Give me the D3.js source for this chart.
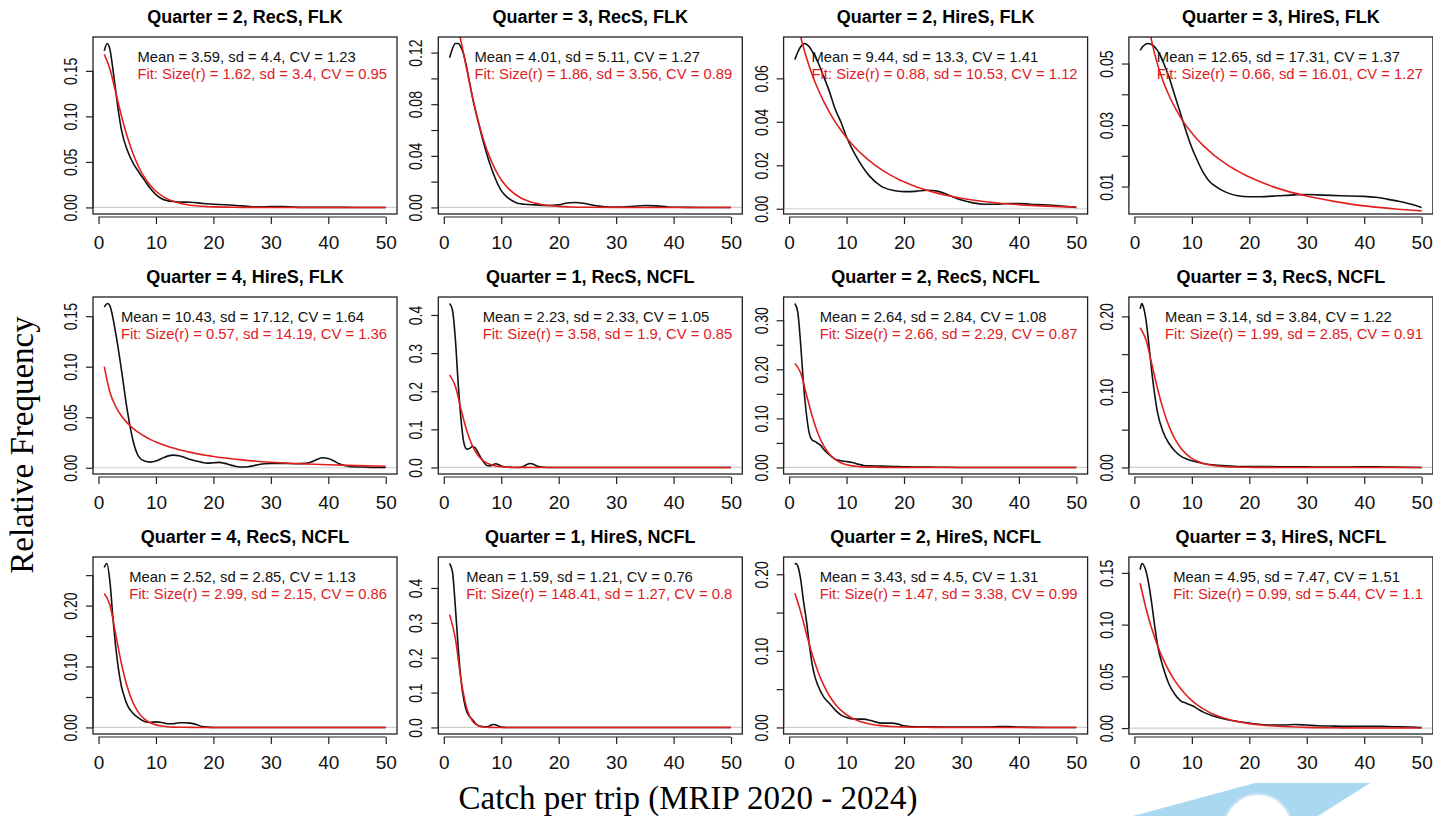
<!DOCTYPE html>
<html>
<head>
<meta charset="utf-8">
<script src="https://cdn.jsdelivr.net/npm/d3@7"></script>
<style>
body { margin: 0; background: #fff; }
svg { display: block; font-family: Arial, "Liberation Sans", sans-serif; }
</style>
</head>
<body>
<div id="chart"></div>
<script>
// panel titles, in reading order (3 rows x 4 columns)
var titles = ["Quarter = 2, RecS, FLK", "Quarter = 3, RecS, FLK", "Quarter = 2, HireS, FLK", "Quarter = 3, HireS, FLK",
  "Quarter = 4, HireS, FLK", "Quarter = 1, RecS, NCFL", "Quarter = 2, RecS, NCFL", "Quarter = 3, RecS, NCFL",
  "Quarter = 4, RecS, NCFL", "Quarter = 1, HireS, NCFL", "Quarter = 2, HireS, NCFL", "Quarter = 3, HireS, NCFL"];

// observed stats
var means = [3.59, 4.01, 9.44, 12.65, 10.43, 2.23, 2.64, 3.14, 2.52, 1.59, 3.43, 4.95];
var sds = [4.4, 5.11, 13.3, 17.31, 17.12, 2.33, 2.84, 3.84, 2.85, 1.21, 4.5, 7.47];
var cvs = [1.23, 1.27, 1.41, 1.37, 1.64, 1.05, 1.08, 1.22, 1.13, 0.76, 1.31, 1.51];
// negative binomial fit stats
var fitSize = [1.62, 1.86, 0.88, 0.66, 0.57, 3.58, 2.66, 1.99, 2.99, 148.41, 1.47, 0.99];
var fitSd = [3.4, 3.56, 10.53, 16.01, 14.19, 1.9, 2.29, 2.85, 2.15, 1.27, 3.38, 5.44];
var fitCv = [0.95, 0.89, 1.12, 1.27, 1.36, 0.85, 0.87, 0.91, 0.86, 0.8, 0.99, 1.1];

// y axis ticks and labels per panel ("" = tick without label)
var yTicks = [
  [0, 0.05, 0.10, 0.15], [0, 0.02, 0.04, 0.06, 0.08, 0.10, 0.12], [0, 0.02, 0.04, 0.06], [0.01, 0.02, 0.03, 0.04, 0.05],
  [0, 0.05, 0.10, 0.15], [0, 0.1, 0.2, 0.3, 0.4], [0, 0.05, 0.10, 0.15, 0.20, 0.25, 0.30], [0, 0.05, 0.10, 0.15, 0.20],
  [0, 0.05, 0.10, 0.15, 0.20, 0.25], [0, 0.1, 0.2, 0.3, 0.4], [0, 0.05, 0.10, 0.15, 0.20], [0, 0.05, 0.10, 0.15]];
var yLabels = [
  ["0.00", "0.05", "0.10", "0.15"], ["0.00", "", "0.04", "", "0.08", "", "0.12"], ["0.00", "0.02", "0.04", "0.06"], ["0.01", "", "0.03", "", "0.05"],
  ["0.00", "0.05", "0.10", "0.15"], ["0.0", "0.1", "0.2", "0.3", "0.4"], ["0.00", "", "0.10", "", "0.20", "", "0.30"], ["0.00", "", "0.10", "", "0.20"],
  ["0.00", "", "0.10", "", "0.20", ""], ["0.0", "0.1", "0.2", "0.3", "0.4"], ["0.00", "", "0.10", "", "0.20"], ["0.00", "0.05", "0.10", "0.15"]];
var xTicks = [0, 10, 20, 30, 40, 50];

// observed density (black), [catch, relative frequency]
var dens1 = [[1,.172],[1.5,.180],[2,.173],[2.5,.152],[3,.128],[3.5,.104],[4,.085],[5,.063],[6,.049],[7,.039],[8,.030],[9,.021],[10,.014],[11,.0095],[12,.0075],[13,.0065],[14,.006],[16,.0057],[18,.0045],[20,.0035],[22,.003],[24,.0022],[26,.0012],[28,.0006],[30,.0009],[32,.0009],[34,.0003],[36,.0001],[40,.0001],[45,0],[50,0]];
var dens2 = [[1,.116],[1.5,.123],[2,.127],[2.5,.127],[3,.124],[3.5,.118],[4,.108],[5,.085],[6,.066],[7,.049],[8,.034],[9,.022],[10,.013],[11,.008],[12,.005],[13,.003],[14,.0025],[16,.002],[18,.0015],[20,.002],[21,.003],[22,.0036],[23,.0038],[24,.0034],[25,.0027],[27,.001],[29,.0003],[31,.0003],[33,.0008],[35,.0015],[37,.0012],[39,.0004],[41,.0001],[45,0],[50,0]];
var dens3 = [[1,.0687],[1.5,.072],[2,.0745],[2.7,.076],[3.5,.0745],[4,.0725],[5,.0675],[6,.061],[7,.054],[8,.046],[9,.040],[10,.033],[12,.0226],[14,.015],[16,.0104],[18,.0085],[20,.0079],[22,.008],[24,.0085],[26,.008],[28,.006],[30,.004],[32,.0027],[34,.0021],[36,.0021],[38,.0024],[40,.0024],[42,.0021],[45,.0017],[48,.0011],[50,.0006]];
var dens4 = [[1,.0543],[1.5,.0556],[2.3,.0565],[3,.0562],[4,.0543],[5,.0505],[6,.0457],[7,.0398],[8,.0339],[9,.028],[10,.0226],[11,.0183],[12,.0145],[13,.0118],[14,.0102],[16,.0081],[18,.0070],[20,.0067],[22,.0067],[25,.0070],[28,.0073],[30,.0074],[33,.0072],[36,.0070],[40,.0068],[42,.0065],[44,.0059],[46,.0052],[48,.0043],[50,.0032]];
var dens5 = [[1,.159],[1.6,.1625],[2,.160],[3,.133],[4,.0966],[5,.057],[6,.027],[7,.011],[8,.0066],[9,.0056],[10,.0066],[11,.0092],[12,.0115],[13,.0125],[14,.0119],[15,.0102],[16,.0082],[17,.0066],[18,.0053],[19,.0046],[20,.0049],[21,.0053],[22,.0043],[23,.0026],[24,.0013],[25,.0007],[26,.001],[27,.002],[28,.0033],[29,.004],[30,.0043],[32,.0043],[34,.004],[36,.0043],[37,.0056],[38,.0082],[39,.0099],[40,.0092],[41,.0066],[42,.0036],[43,.002],[44,.001],[46,.0007],[48,.0003],[50,.0003]];
var dens6 = [[1,.43],[1.5,.413],[2,.339],[2.5,.221],[3,.125],[3.5,.064],[4,.048],[4.5,.05],[5,.055],[5.5,.051],[6,.0376],[6.5,.0245],[7,.013],[7.5,.0052],[8,.0044],[8.5,.006],[9,.0096],[9.5,.008],[10,.0035],[11,.001],[12,0],[13,0],[13.5,.0005],[14,.0035],[14.5,.008],[15,.0105],[15.5,.009],[16,.0052],[17,.001],[18,0],[50,0]];
var dens7 = [[1,.334],[1.5,.317],[2,.2525],[2.5,.171],[3,.110],[3.5,.070],[4,.056],[4.5,.053],[5,.049],[5.5,.045],[6,.037],[7,.026],[8,.017],[9,.0135],[10,.012],[11,.010],[12,.0068],[13,.004],[14,.0034],[16,.0027],[18,.002],[20,.0014],[22,.0007],[24,.0007],[26,.0005],[30,0],[50,0]];
var dens8 = [[1,.21],[1.3,.217],[1.5,.214],[2,.196],[2.5,.164],[3,.1285],[3.5,.098],[4,.0737],[5,.047],[6,.032],[7,.022],[8,.0154],[9,.0114],[10,.0088],[11,.007],[12,.0053],[13,.004],[14,.0031],[16,.0022],[18,.0013],[20,.0013],[22,.0013],[25,.0009],[28,.0009],[30,.0009],[32,.0004],[35,.0004],[40,.0009],[42,.0009],[45,.0004],[50,0]];
var dens9 = [[1,.2625],[1.45,.269],[2,.238],[2.5,.181],[3,.132],[3.5,.094],[4,.0668],[4.5,.0505],[5,.037],[6,.0234],[7,.0152],[8,.0098],[9,.0082],[10,.0092],[11,.0082],[12,.006],[13,.006],[14,.0076],[15,.0076],[16,.0071],[17,.0049],[18,.0016],[19,.0005],[20,0],[50,0]];
var dens10 = [[1,.47],[1.5,.447],[2,.348],[2.5,.23],[3,.135],[3.5,.078],[4,.045],[4.5,.031],[5,.022],[5.5,.012],[6,.0057],[6.5,.003],[7,.002],[7.5,.002],[8,.0047],[8.5,.0085],[9,.0076],[9.5,.0038],[10,.001],[11,0],[50,0]];
var dens11 = [[1,.213],[1.2,.214],[1.5,.211],[2,.194],[2.5,.165],[3,.140],[3.5,.109],[4,.083],[4.5,.066],[5,.055],[6,.040],[7,.0315],[8,.023],[9,.0164],[10,.013],[11,.0112],[12,.0108],[13,.0108],[14,.0095],[15,.0073],[16,.0056],[17,.0056],[18,.0056],[19,.0043],[20,.0022],[22,.0009],[25,.0009],[28,.0004],[30,.0004],[34,.0004],[36,.0008],[37,.0013],[38,.0013],[40,.0004],[45,0],[50,0]];
var dens12 = [[1,.153],[1.3,.159],[2,.152],[2.5,.139],[3,.121],[3.5,.100],[4,.081],[5,.0587],[6,.0426],[7,.033],[8,.0266],[9,.024],[10,.0218],[11,.0186],[12,.0154],[13,.0131],[14,.0112],[16,.0083],[18,.0064],[20,.0048],[22,.0035],[24,.0029],[26,.0029],[28,.0035],[30,.0029],[32,.0022],[35,.0019],[38,.0016],[40,.0016],[43,.0016],[45,.0013],[48,.001],[50,.0006]];
var densities = [dens1, dens2, dens3, dens4, dens5, dens6, dens7, dens8, dens9, dens10, dens11, dens12];

// fitted curve (red), read at these catch values
var fitX = [1,2,3,4,5,6,7,8,9,10,11,12,13,14,15,16,17,18,19,20,22,25,30,35,40,45,50];
var fit1 = [.1682,.1518,.1262,.1005,.0778,.0592,.0444,.0330,.0243,.0178,.0130,.0094,.0068,.0049,.0035,.0025,.0018,.0013,.0009,.0006,.0003,.0001,0,0,0,0,0];
var fit2 = [.1499,.1464,.1287,.1068,.0855,.0668,.0512,.0388,.0290,.0215,.0159,.0116,.0085,.0061,.0044,.0032,.0023,.0016,.0012,.0008,.0004,.00015,.00003,0,0,0,0];
var fit3 = [.0923,.0793,.0697,.0618,.0552,.0495,.0445,.0401,.0362,.0327,.0296,.0268,.0243,.0220,.0200,.0181,.0165,.0150,.0136,.0124,.0102,.0077,.0048,.0030,.0019,.0012,.00077];
var fit4 = [.0864,.0681,.0574,.0499,.0442,.0397,.0359,.0326,.0298,.0274,.0252,.0233,.0216,.0200,.0186,.0173,.0161,.0150,.0140,.0131,.0115,.0094,.0069,.0051,.0037,.0028,.0021];
var fit5 = [.1000,.0744,.0605,.0512,.0444,.0390,.0347,.0312,.0281,.0255,.0233,.0213,.0195,.0179,.0165,.0152,.0141,.0130,.0121,.0112,.0097,.0078,.0055,.0040,.0029,.0021,.0015];
var fit6 = [.2428,.2134,.1523,.0962,.0560,.0307,.0161,.0082,.0040,.0020,.0009,.0004,.0002,.0001,0,0,0,0,0,0,0,0,0,0,0,0,0];
var fit7 = [.2117,.1930,.1493,.1053,.0698,.0444,.0274,.0165,.0097,.0056,.0032,.0018,.0010,.0006,.0003,.0002,.0001,0,0,0,0,0,0,0,0,0,0];
var fit8 = [.1850,.1693,.1378,.1052,.0772,.0550,.0384,.0264,.0180,.0121,.0081,.0053,.0035,.0023,.0015,.0010,.0006,.0004,.0003,.0002,.0001,0,0,0,0,0,0];
var fit9 = [.2198,.2006,.1526,.1045,.0668,.0407,.0239,.0137,.0076,.0042,.0023,.0012,.0006,.0003,.0002,.0001,0,0,0,0,0,0,0,0,0,0,0];
var fit10 = [.3235,.2562,.1361,.0546,.0177,.0048,.0011,.0002,0,0,0,0,0,0,0,0,0,0,0,0,0,0,0,0,0,0,0];
var fit11 = [.1753,.1515,.1227,.0960,.0735,.0555,.0414,.0307,.0226,.0166,.0121,.0088,.0064,.0046,.0033,.0024,.0017,.0012,.0009,.0006,.0003,.0001,0,0,0,0,0];
var fit12 = [.1400,.1161,.0964,.0801,.0666,.0554,.0461,.0384,.0320,.0266,.0222,.0185,.0154,.0128,.0107,.0089,.0074,.0062,.0051,.0043,.0030,.0017,.0007,.0003,.0001,0,0];
var fits = [fit1, fit2, fit3, fit4, fit5, fit6, fit7, fit8, fit9, fit10, fit11, fit12];

// layout
var W = 1433, H = 816;
var left0 = 93, top0 = 37, colStep = 345.3, rowStep = 260;
var boxW = 304, boxH = 177;

var svg = d3.select("#chart")
  .append("svg")
  .attr("width", W)
  .attr("height", H);

// logo band in the bottom right corner
svg.append("path")
  .attr("d", "M1133,816 L1255,783 L1370,783 L1318,816 Z")
  .attr("fill", "#a9d8f0");
svg.append("circle")
  .attr("cx", 1258).attr("cy", 828).attr("r", 34)
  .attr("fill", "#fff").attr("stroke", "#c9e3f2").attr("stroke-width", 2);

var x = d3.scaleLinear()
  .domain([1 - 0.04 * 49, 50 + 0.04 * 49])
  .range([0, boxW]);

titles.forEach(function(title, i) {
  var col = i % 4, row = Math.floor(i / 4);
  var g = svg.append("g")
    .attr("transform", "translate(" + (left0 + col * colStep) + "," + (top0 + row * rowStep) + ")");

  var dens = densities[i];
  var ext = d3.extent(dens, function(d) { return d[1]; });
  var pad = 0.04 * (ext[1] - ext[0]);
  var y = d3.scaleLinear()
    .domain([ext[0] - pad, ext[1] + pad])
    .range([boxH, 0]);

  g.append("clipPath").attr("id", "clip" + i)
    .append("rect").attr("width", boxW).attr("height", boxH);

  // grey zero line
  if (y.domain()[0] < 0) {
    g.append("line")
      .attr("x1", 0).attr("x2", boxW)
      .attr("y1", y(0)).attr("y2", y(0))
      .attr("stroke", "#cfcfcf").attr("stroke-width", 1.2);
  }

  var line = d3.line()
    .x(function(d) { return x(d[0]); })
    .y(function(d) { return y(d[1]); })
    .curve(d3.curveMonotoneX);

  g.append("path")
    .datum(dens)
    .attr("clip-path", "url(#clip" + i + ")")
    .attr("fill", "none")
    .attr("stroke", "#111")
    .attr("stroke-width", 1.6)
    .attr("d", line);

  g.append("path")
    .datum(fitX.map(function(v, j) { return [v, fits[i][j]]; }))
    .attr("clip-path", "url(#clip" + i + ")")
    .attr("fill", "none")
    .attr("stroke", "#e0201f")
    .attr("stroke-width", 1.6)
    .attr("d", line);

  // box
  g.append("rect")
    .attr("width", boxW).attr("height", boxH)
    .attr("fill", "none").attr("stroke", "#222").attr("stroke-width", 1.3);

  // x axis
  var xa = g.append("g")
    .attr("transform", "translate(0," + (boxH + 3) + ")")
    .call(d3.axisBottom(x).tickValues(xTicks).tickSize(7).tickSizeOuter(0));
  xa.select(".domain").remove();
  xa.append("line")
    .attr("x1", x(xTicks[0])).attr("x2", x(xTicks[xTicks.length - 1]))
    .attr("stroke", "#222").attr("stroke-width", 1.2);
  xa.selectAll(".tick line").attr("stroke", "#222").attr("stroke-width", 1.2);
  xa.selectAll("text")
    .attr("y", 32).attr("dy", 0)
    .style("font-size", "19px").style("fill", "#111");

  // y axis (labels parallel to the axis, slightly wide like the source image)
  var yt = yTicks[i], yl = yLabels[i];
  var ya = g.append("g")
    .call(d3.axisLeft(y).tickValues(yt).tickSize(7).tickSizeOuter(0)
      .tickFormat(function(d, j) { return yl[j]; }));
  ya.select(".domain").remove();
  ya.append("line")
    .attr("y1", y(yt[0])).attr("y2", y(yt[yt.length - 1]))
    .attr("stroke", "#222").attr("stroke-width", 1.2);
  ya.selectAll(".tick line").attr("stroke", "#222").attr("stroke-width", 1.2);
  ya.selectAll("text")
    .attr("transform", "translate(-16,0) rotate(-90) scale(1,1.3)")
    .attr("x", 0).attr("y", 0).attr("dy", 0)
    .style("text-anchor", "middle")
    .style("font-size", "14px").style("fill", "#111");

  // title
  g.append("text")
    .attr("x", boxW / 2).attr("y", -14)
    .attr("text-anchor", "middle")
    .style("font-weight", "bold").style("font-size", "18px")
    .text(title);

  // legend text, placed top right like R's legend()
  var t1 = g.append("text")
    .attr("y", 25)
    .style("font-size", "14.8px").style("fill", "#111")
    .text("Mean = " + means[i] + ", sd = " + sds[i] + ", CV = " + cvs[i]);
  var t2 = g.append("text")
    .attr("y", 42)
    .style("font-size", "14.8px").style("fill", "#e0201f")
    .text("Fit: Size(r) = " + fitSize[i] + ", sd = " + fitSd[i] + ", CV = " + fitCv[i]);
  var tw = Math.max(t1.node().getComputedTextLength(), t2.node().getComputedTextLength());
  t1.attr("x", boxW - 10 - tw);
  t2.attr("x", boxW - 10 - tw);
});

// axis titles
svg.append("text")
  .attr("transform", "translate(33,445) rotate(-90)")
  .attr("text-anchor", "middle")
  .style("font-family", "'Liberation Serif', 'DejaVu Serif', serif")
  .style("font-size", "33px")
  .text("Relative Frequency");

svg.append("text")
  .attr("x", 688).attr("y", 809)
  .attr("text-anchor", "middle")
  .style("font-family", "'Liberation Serif', 'DejaVu Serif', serif")
  .style("font-size", "33px")
  .text("Catch per trip (MRIP 2020 - 2024)");
</script>
</body>
</html>
